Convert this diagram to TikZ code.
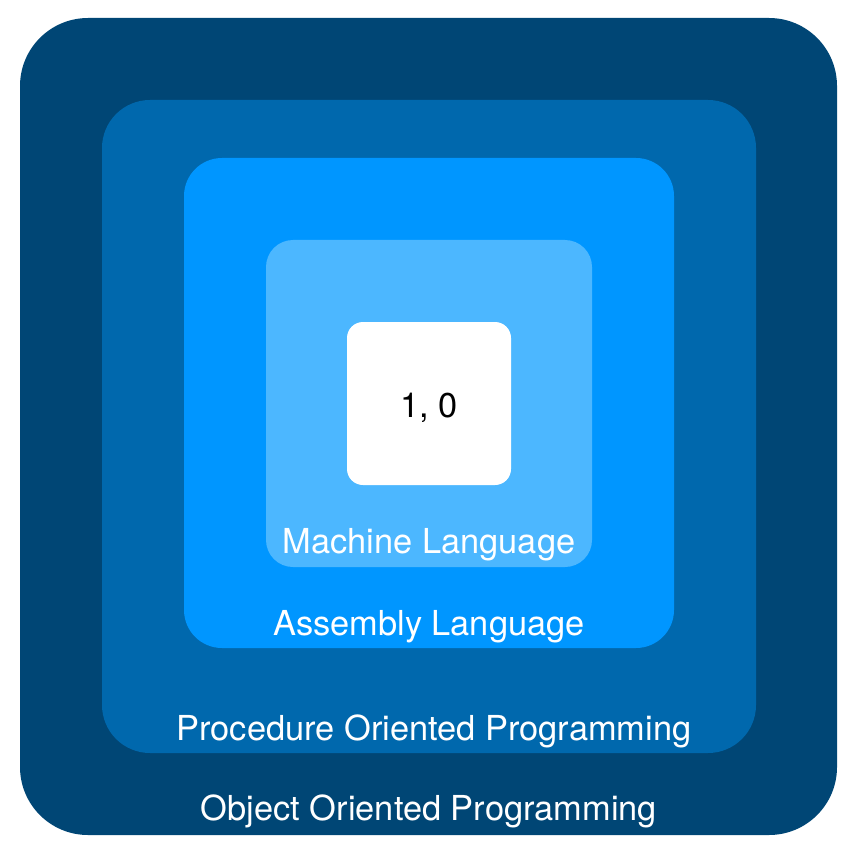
\documentclass[tikz,border=0pt]{standalone}
\usepackage{fontspec}
\setmainfont{TeX Gyre Heros}
\definecolor{lvA}{RGB}{0,70,117}
\definecolor{lvB}{RGB}{0,104,173}
\definecolor{lvC}{RGB}{0,150,255}
\definecolor{lvD}{RGB}{76,183,255}
\begin{document}
\begin{tikzpicture}[x=1pt,y=-1pt,
  lbl/.style={anchor=base,text=white,font=\fontsize{34.4}{38}\selectfont,inner sep=0pt},
  blk/.style={anchor=base,text=black,font=\fontsize{34.4}{38}\selectfont,inner sep=0pt}]
\useasboundingbox (0,0) rectangle (855,858);
\fill[lvA,rounded corners=68pt] (20,18) rectangle (837,835);
\fill[lvB,rounded corners=48pt] (102,100) rectangle (756,753);
\fill[lvC,rounded corners=38pt] (184,158) rectangle (674,648);
\fill[lvD,rounded corners=27pt] (266,240) rectangle (592,567);
\fill[white,rounded corners=16pt] (347,322) rectangle (511,485);
\node[blk] (bits) at (429,417) {1, 0};
\node[lbl] (ml) at (429,553) {Machine Language};
\node[lbl] (al) at (429,635) {Assembly Language};
\node[lbl] (pop) at (434,740) {Procedure Oriented Programming};
\node[lbl] (oop) at (429,820) {Object Oriented Programming};
\end{tikzpicture}
\end{document}
